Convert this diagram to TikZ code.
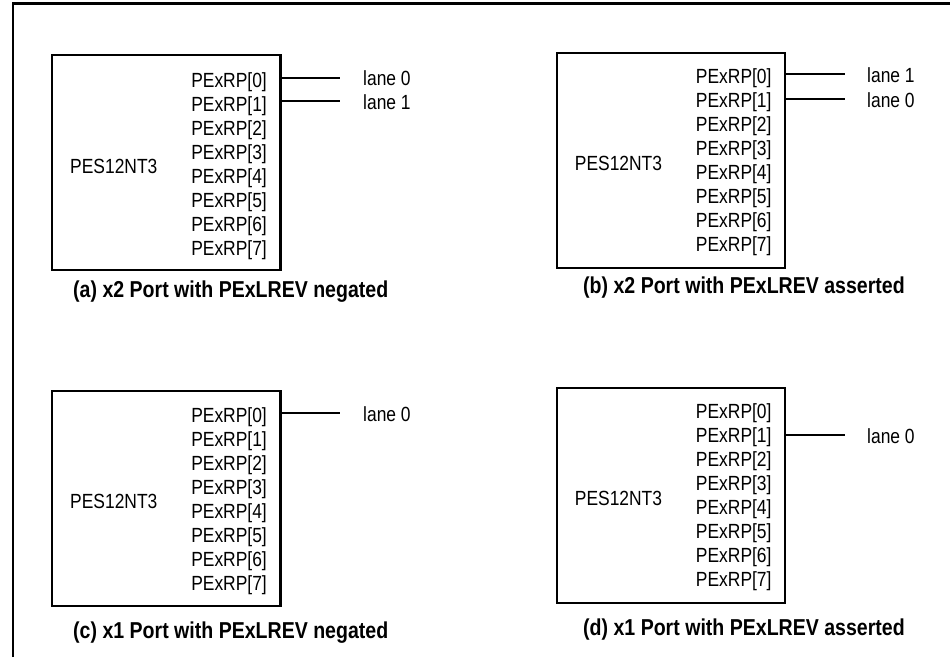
\documentclass[tikz,border=0pt]{standalone}
\usepackage{fontspec}
\setmainfont{Liberation Sans}[FakeStretch=0.85]
\newfontfamily\capfont{Liberation Sans}[FakeStretch=0.85]
\tikzset{
  chipbox/.style={draw=black, line width=2.3pt, inner sep=0pt, anchor=north west},
  pinlbl/.style={anchor=east, inner sep=0pt, font=\fontsize{20.5}{22}\selectfont},
  chiplbl/.style={anchor=west, inner sep=0pt, font=\fontsize{20.5}{22}\selectfont},
  lanelbl/.style={anchor=west, inner sep=0pt, font=\fontsize{20.5}{22}\selectfont},
  caplbl/.style={anchor=west, inner sep=0pt, font=\capfont\bfseries\fontsize{23}{25}\selectfont},
  wire/.style={line width=2.1pt},
  frameline/.style={line width=2.6pt}
}
% #1 name, #2 x, #3 y, #4 first-row y, #5 chip label y, #6 caption x, #7 caption y, #8 caption
\newcommand{\drawpanel}[8]{%
  \begin{scope}[shift={(#2,#3)}]
    \node[chipbox, minimum width=228.3pt, minimum height=215pt] (#1box) at (0,0) {};
    \foreach \i in {0,...,7}{
      \node[pinlbl] (#1p\i) at (216,{#4+24*\i}) {PExRP[\i]};
    }
    \node[chiplbl] (#1chip) at (19,#5) {PES12NT3};
    \node[caplbl] (#1cap) at (#6,#7) {#8};
  \end{scope}%
}
\begin{document}
\begin{tikzpicture}[x=1pt,y=-1pt]
\useasboundingbox (0,0) rectangle (950,657);
% outer frame (open at right and bottom)
\coordinate (fbl) at (12.8,657);
\coordinate (ftl) at (12.8,3.3);
\coordinate (ftr) at (950,3.3);
\draw[frameline] (fbl) -- (ftl) -- (ftr);

% panel (a)
\drawpanel{a}{51}{54}{27.7}{112.7}{22}{237.7}{(a) x2 Port with PExLREV negated}
\coordinate (aw0) at (340,77.7);
\coordinate (aw1) at (340,101);
\node[lanelbl] (al0) at (363,78.5) {lane 0};
\node[lanelbl] (al1) at (363,102) {lane 1};
\draw[wire] (abox.east |- aw0) -- (aw0);
\draw[wire] (abox.east |- aw1) -- (aw1);

% panel (b)
\drawpanel{b}{555.7}{51.7}{26.6}{111.3}{27.3}{236.3}{(b) x2 Port with PExLREV asserted}
\coordinate (bw0) at (845,74.3);
\coordinate (bw1) at (845,99);
\node[lanelbl] (bl1) at (867,75.5) {lane 1};
\node[lanelbl] (bl0) at (867,100) {lane 0};
\draw[wire] (bbox.east |- bw0) -- (bw0);
\draw[wire] (bbox.east |- bw1) -- (bw1);

% panel (c)
\drawpanel{c}{51}{390}{27.3}{111.7}{22}{242.7}{(c) x1 Port with PExLREV negated}
\coordinate (cw0) at (340,413.3);
\node[lanelbl] (cl0) at (363,414) {lane 0};
\draw[wire] (cbox.east |- cw0) -- (cw0);

% panel (d)
\drawpanel{d}{555.7}{386.7}{26.6}{111.6}{27.3}{243.3}{(d) x1 Port with PExLREV asserted}
\coordinate (dw0) at (845,435);
\node[lanelbl] (dl0) at (867,436) {lane 0};
\draw[wire] (dbox.east |- dw0) -- (dw0);
\end{tikzpicture}
\end{document}
